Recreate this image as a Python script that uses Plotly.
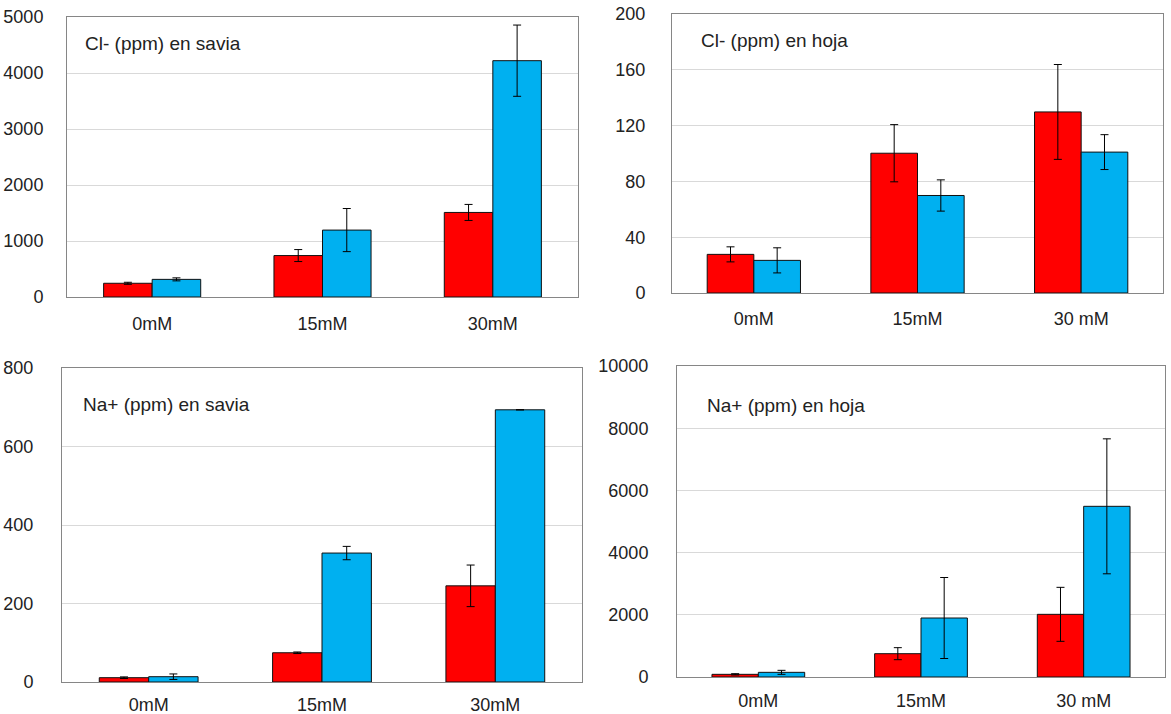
import plotly.graph_objects as go

W, H = 1171, 714

cats_tl = ["0mM", "15mM", "30mM"]
cats_tr = ["0mM", "15mM", "30 mM"]
cats_bl = ["0mM", "15mM", "30mM"]
cats_br = ["0mM", "15mM", "30 mM"]

cl_savia_red = [245, 740, 1510]
cl_savia_red_err = [18, 107, 143]
cl_savia_blue = [315, 1195, 4220]
cl_savia_blue_err = [27, 385, 636]

cl_hoja_red = [27.7, 100.2, 129.8]
cl_hoja_red_err = [5.4, 20.5, 34]
cl_hoja_blue = [23.4, 69.9, 101]
cl_hoja_blue_err = [9, 11.2, 12.5]

na_savia_red = [11, 74.5, 245]
na_savia_red_err = [2, 2, 53]
na_savia_blue = [13.5, 328.5, 693.5]
na_savia_blue_err = [7, 17, 0]

na_hoja_red = [86, 750, 2015]
na_hoja_red_err = [20, 193, 868]
na_hoja_blue = [150, 1897, 5488]
na_hoja_blue_err = [64, 1302, 2170]

titles = ["Cl- (ppm) en savia", "Cl- (ppm) en hoja", "Na+ (ppm) en savia", "Na+ (ppm) en hoja"]
y_max = [5000, 200, 800, 10000]
y_dtick = [1000, 40, 200, 2000]

RED = "#FF0000"
BLUE = "#00B0F0"
TXT = "#222222"
FONT = "Liberation Sans, Arial, sans-serif"

# panel boxes in pixels: (left, top, right, bottom)
boxes = [(67, 17, 578, 297), (672, 14, 1163, 293), (62, 368, 582, 682), (677, 366, 1165, 677)]
title_pos = [(83, 43), (699, 40), (81, 404), (705, 405)]
ystand = [19, 22, 24, 24]
xstand = [10, 9, 6, 7]

panels = [
    (cats_tl, cl_savia_red, cl_savia_red_err, cl_savia_blue, cl_savia_blue_err),
    (cats_tr, cl_hoja_red, cl_hoja_red_err, cl_hoja_blue, cl_hoja_blue_err),
    (cats_bl, na_savia_red, na_savia_red_err, na_savia_blue, na_savia_blue_err),
    (cats_br, na_hoja_red, na_hoja_red_err, na_hoja_blue, na_hoja_blue_err),
]

fig = go.Figure()
layout = dict(
    width=W, height=H, margin=dict(l=0, r=0, t=0, b=0, autoexpand=False),
    paper_bgcolor="white", plot_bgcolor="white",
    barmode="group", bargap=0.43, bargroupgap=0,
    showlegend=False,
    font=dict(family=FONT, size=18, color=TXT),
    annotations=[],
)

for i, (cats, r, re, b, be) in enumerate(panels):
    n = "" if i == 0 else str(i + 1)
    xa, ya = "x" + n, "y" + n
    eb = dict(type="data", thickness=1, width=4, color="#000000")
    fig.add_trace(go.Bar(x=cats, y=r, xaxis=xa, yaxis=ya, marker=dict(color=RED, line=dict(color="#111111", width=1)),
                         error_y=dict(array=re, **eb), offsetgroup="a"))
    fig.add_trace(go.Bar(x=cats, y=b, xaxis=xa, yaxis=ya, marker=dict(color=BLUE, line=dict(color="#111111", width=1)),
                         error_y=dict(array=be, **eb), offsetgroup="b"))
    l, t, rr, bb = boxes[i]
    layout["xaxis" + n] = dict(
        domain=[l / W, rr / W], anchor=ya, range=[-0.5, 2.5], type="category",
        showline=True, mirror=True, linecolor="#868686", linewidth=1,
        showgrid=False, ticks="", ticklabelstandoff=xstand[i], automargin=False,
        tickfont=dict(size=18, color=TXT, family=FONT),
    )
    layout["yaxis" + n] = dict(
        domain=[1 - bb / H, 1 - t / H], anchor=xa, range=[0, y_max[i]],
        tick0=0, dtick=y_dtick[i], tickformat="d", showline=True, mirror=True, linecolor="#868686", linewidth=1,
        showgrid=True, gridcolor="#D9D9D9", gridwidth=1, zeroline=False, ticks="", automargin=False,
        ticklabelstandoff=ystand[i], tickfont=dict(size=18, color=TXT, family=FONT),
    )
    tx, ty = title_pos[i]
    layout["annotations"].append(dict(
        text=titles[i], xref="paper", yref="paper", x=tx / W, y=1 - ty / H,
        xanchor="left", yanchor="middle", showarrow=False,
        font=dict(size=19, color=TXT, family=FONT),
    ))

fig.update_layout(**layout)
fig.write_html(
    "out.html",
    config={"displayModeBar": False},
    post_script="document.body.style.margin='0';document.body.style.overflow='hidden';",
)
